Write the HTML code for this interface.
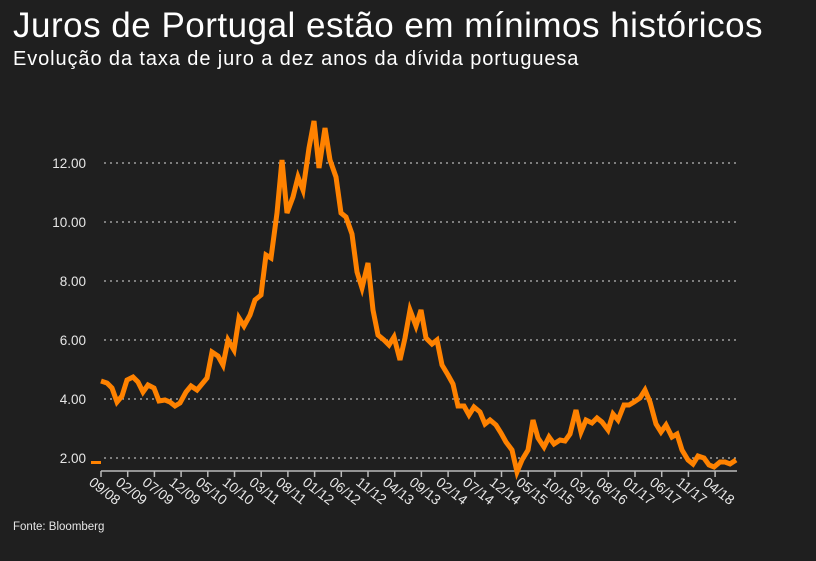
<!DOCTYPE html>
<html><head><meta charset="utf-8"><style>
html,body{margin:0;padding:0;background:#1f1f1f;}
body{width:816px;height:561px;overflow:hidden;position:relative;font-family:"Liberation Sans",sans-serif;color:#fff;}
.t{position:absolute;left:13px;top:6px;font-size:35px;letter-spacing:0.5px;white-space:nowrap;}
.s{position:absolute;left:13px;top:48px;font-size:20px;letter-spacing:0.9px;white-space:nowrap;}
</style></head><body>
<div class="t">Juros de Portugal estão em mínimos históricos</div>
<div class="s">Evolução da taxa de juro a dez anos da dívida portuguesa</div>
<svg width="816" height="561" style="position:absolute;left:0;top:0" font-family="Liberation Sans, sans-serif">
<g stroke="#ddd" stroke-width="1" stroke-dasharray="2,4">
<line x1="104" y1="163" x2="738" y2="163"/><line x1="104" y1="222" x2="738" y2="222"/><line x1="104" y1="281" x2="738" y2="281"/><line x1="104" y1="340" x2="738" y2="340"/><line x1="104" y1="399" x2="738" y2="399"/><line x1="104" y1="458" x2="738" y2="458"/>
</g>
<g fill="#e6e6e6" font-size="13.5" text-anchor="end">
<text x="86" y="168">12.00</text><text x="86" y="227">10.00</text><text x="86" y="286">8.00</text><text x="86" y="345">6.00</text><text x="86" y="404">4.00</text><text x="86" y="463">2.00</text>
</g>
<rect x="91" y="461" width="10" height="3" fill="#ff8200"/>
<line x1="101" y1="471" x2="737" y2="471" stroke="#bbb" stroke-width="1.5"/>
<g stroke="#bbb" stroke-width="1.5" id="ticks"></g>
<g fill="#e6e6e6" font-size="14" id="labs"></g>
<polyline fill="none" stroke="#ff8200" stroke-width="5" stroke-linejoin="miter" points="101,381 107,383 112,388 117,402 122,396 127,380 133,377 138,382 143,392 148,385 154,388 159,401 165,400 170,402 175,406 180,403 186,392 191,386 197,390 202,384 207,378 212,352 218,356 223,365 228,340 234,350 239,318 244,326 250,315 255,300 261,295 266,255 271,258 277,213 282,160 287,213 293,197 298,177 303,190 309,148 314,121 319,168 325,128 330,160 336,177 341,213 346,217 352,234 357,272 362,288 368,263 373,310 378,335 384,340 389,345 394,337 400,360 405,338 410,310 416,326 421,310 426,338 432,344 437,340 442,365 448,375 453,384 458,406 464,406 469,415 474,407 480,412 485,424 490,420 496,425 501,433 506,442 512,450 517,472 522,460 528,450 533,420 538,438 544,447 549,437 554,444 560,440 565,441 570,434 576,410 581,432 586,420 592,423 597,418 602,422 608,430 613,414 618,420 624,405 629,405 634,402 640,398 645,390 650,402 656,424 661,432 666,425 672,437 677,434 682,450 688,460 693,464 698,456 704,458 709,465 714,467 720,462 725,462 730,464 736,460"/>
<text x="13" y="530" fill="#e6e6e6" font-size="11.5">Fonte: Bloomberg</text>
</svg>
<script>
var L=["09/08","02/09","07/09","12/09","05/10","10/10","03/11","08/11","01/12","06/12","11/12","04/13","09/13","02/14","07/14","12/14","05/15","10/15","03/16","08/16","01/17","06/17","11/17","04/18"];
var t=document.getElementById("ticks"),l=document.getElementById("labs"),ns="http://www.w3.org/2000/svg";
for(var i=0;i<24;i++){var x=101+i*26.7;
var ln=document.createElementNS(ns,"line");ln.setAttribute("x1",x);ln.setAttribute("x2",x);ln.setAttribute("y1",471);ln.setAttribute("y2",477);t.appendChild(ln);
var tx=document.createElementNS(ns,"text");tx.setAttribute("transform","translate("+(x-13)+",484) rotate(38)");tx.textContent=L[i];l.appendChild(tx);}
</script>
</body></html>
